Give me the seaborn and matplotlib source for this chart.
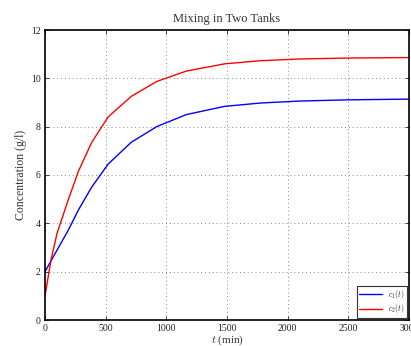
import matplotlib
matplotlib.use("Agg")
import matplotlib.pyplot as plt
import seaborn as sns
import pandas as pd

t_min = [0, 50, 100, 190, 275, 385, 520, 710, 920, 1165, 1480, 1780, 2100, 2500, 3000]
c1 = [2.0, 2.45, 2.9, 3.7, 4.55, 5.5, 6.45, 7.35, 8.0, 8.5, 8.84, 8.98, 9.06, 9.11, 9.14]
c2 = [1.0, 2.5, 3.6, 4.95, 6.15, 7.35, 8.4, 9.25, 9.87, 10.3, 10.6, 10.73, 10.8, 10.84, 10.86]
series_names = ["$c_1(t)$", "$c_2(t)$"]
x_ticks = [0, 500, 1000, 1500, 2000, 2500, 3000]
y_ticks = [0, 2, 4, 6, 8, 10, 12]

df = pd.concat([
    pd.DataFrame({"t": t_min, "c": c1, "series": series_names[0]}),
    pd.DataFrame({"t": t_min, "c": c2, "series": series_names[1]}),
])

sns.set_style("ticks")
plt.rcParams["font.family"] = ["Liberation Serif", "DejaVu Serif"]
plt.rcParams["mathtext.fontset"] = "cm"

fig = plt.figure(figsize=(4.11, 3.46), dpi=100)
ax = fig.add_axes([45 / 411, 26 / 346, 364 / 411, 290 / 346])

sns.lineplot(data=df, x="t", y="c", hue="series", palette=["#0000ff", "#ff0000"],
             ax=ax, linewidth=1.0, sort=False, estimator=None)

ax.set_xlim(0, 3000)
ax.set_ylim(0, 12)
ax.set_xticks(x_ticks)
ax.set_yticks(y_ticks)
ax.tick_params(direction="in", length=3, width=0.6, labelsize=7, colors="#222222",
               top=True, right=True, pad=3)
ax.grid(True, linestyle=(0, (1, 3)), color="#888888", linewidth=0.7)
for s in ax.spines.values():
    s.set_linewidth(1.2)
    s.set_color("black")

ax.set_title("Mixing in Two Tanks", fontsize=9, color="#333333", pad=6)
ax.set_xlabel("$t$ (min)", fontsize=8, color="#333333", labelpad=0)
ax.set_ylabel("Concentration (g/l)", fontsize=8.5, color="#333333", labelpad=3)

leg = ax.legend(loc="lower right", fontsize=5.5, frameon=True, fancybox=False,
                edgecolor="black", handlelength=3, borderpad=0.3, labelspacing=0.2,
                borderaxespad=0.3)
leg.get_frame().set_linewidth(0.8)

fig.savefig("out.png", dpi=100)
